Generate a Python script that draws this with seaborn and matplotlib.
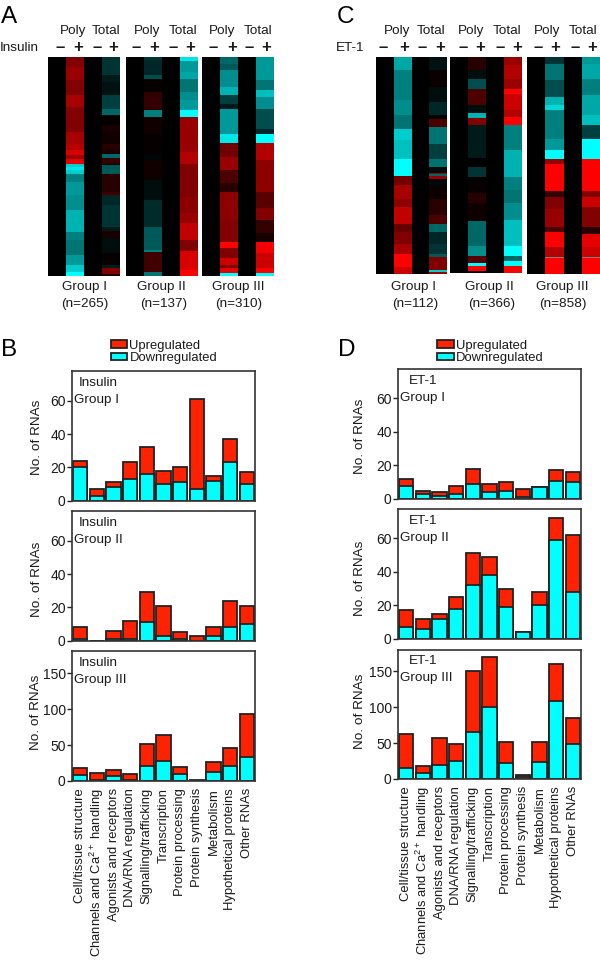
import numpy as np
import pandas as pd
import matplotlib
matplotlib.use("Agg")
import matplotlib.pyplot as plt
from matplotlib.colors import LinearSegmentedColormap
import seaborn as sns

categories = ["Cell/tissue structure", "Channels and Ca$^{2+}$ handling", "Agonists and receptors",
              "DNA/RNA regulation", "Signalling/trafficking", "Transcription", "Protein processing",
              "Protein synthesis", "Metabolism", "Hypothetical proteins", "Other RNAs"]

ins1_total = [24, 7, 11, 23, 32, 18, 20, 61, 15, 37, 17]
ins1_down = [20, 3, 8, 13, 16, 10, 11, 7, 12, 23, 10]
ins2_total = [8, 0, 6, 12, 29, 21, 5, 3, 8, 24, 21]
ins2_down = [1, 0, 1, 1, 11, 3, 1, 0, 3, 8, 10]
ins3_total = [18, 11, 16, 10, 51, 64, 19, 2, 26, 46, 93]
ins3_down = [8, 2, 7, 2, 21, 28, 10, 0, 12, 21, 33]
et1_total = [12, 5, 4, 8, 18, 9, 10, 6, 7, 17, 16]
et1_down = [8, 3, 2, 3, 9, 4, 5, 1, 7, 11, 10]
et2_total = [17, 12, 15, 25, 51, 49, 30, 4, 28, 72, 62]
et2_down = [7, 6, 12, 18, 32, 38, 19, 4, 20, 59, 28]
et3_total = [62, 18, 57, 49, 150, 170, 51, 6, 52, 160, 85]
et3_down = [15, 8, 19, 25, 66, 100, 22, 3, 23, 108, 49]

# Heatmap bands: (level, row where the band ends). Level -10 = cyan, 0 = black, 10 = red; None = no data.
A1_poly = [(5,200),(6,240),(5,285),(6.5,320),(5,395),(6.5,430),(7,450),(8.5,465),(6,475),(9,492),(-8,500),(-9,510),(-8,522),
           (-5,545),(-6,585),(-5.5,630),(-7,695),(-5,720),(-4.5,765),(-6,795),(-8,815),(-10,828)]
A1_total = [(-2,225),(-1,245),(-0.7,285),(-2.5,325),(-4,345),(0.2,375),(1,395),(0.7,430),(1.5,450),(0.8,460),(-4,473),(2,490),
            (0,495),(-3.5,522),(1.5,575),(2.5,585),(-1.5,615),(-2,680),(-1,692),(1,715),(-0.5,760),(0.3,795),(-1,805),(5,822),(1,828)]
A2_poly = [(-2,180),(-1.5,225),(-3,235),(0.3,275),(2,330),(-5,350),(0.7,400),(0.3,460),(-0.2,480),(0.7,540),(-0.5,600),
           (-1.7,680),(-3.5,750),(-5,755),(2.5,815),(-4.5,828)]
A2_total = [(-9,182),(-6,215),(-6.5,235),(-4.5,275),(-5.5,300),(-6,330),(-10,350),(6,455),(7,490),(5,590),(5.5,640),(6,670),
            (7.5,720),(5,752),(8.5,810),(10,828)]
A3_poly = [(-4,190),(-3.5,210),(-5.5,260),(-7,285),(-2.5,310),(-1,327),(-6,400),(-9,427),(4.5,470),(6,510),(3,550),(1.5,575),
           (5.5,660),(5,725),(10,745),(5,775),(8,795),(5,805),(9,818),(-10,828)]
A3_total = [(-6,240),(-4.5,270),(-7.5,290),(-5.5,327),(-3,385),(-1.5,400),(-10,427),(7,480),(5.5,575),(3.5,625),(5,660),(2,700),
            (1,725),(9.5,760),(8,803),(10,818),(-10,828)]
C1_poly = [(-6.5,210),(-5,300),(-5.5,345),(-4.5,385),(-8,420),(-7.5,475),(-10,528),(4.5,555),(6.5,595),(5.5,620),(7.5,670),
           (4,695),(5,730),(6.5,760),(10,800),(8,820)]
C1_total = [(-0.7,210),(0.4,260),(-0.5,305),(-1.5,345),(0,355),(3,380),(-4.5,430),(-2.5,475),(-4.5,500),(-0.5,518),(6,522),
            (-4,528),(6,535),(-0.3,560),(0.6,595),(1.5,645),(3,670),(-4,695),(-1.5,730),(-2,760),(-3.5,770),(5,808),(-8,814),(6,820)]
C2_poly = [(1.5,210),(-0.5,235),(-3,265),(3,315),(-0.5,340),(-7,355),(5,375),(-1,475),(0,500),(-2,530),(0.3,580),(1.5,610),
           (0.6,665),(-4,740),(-5.5,770),(3.5,790),(-10,800),(10,815),(0,820)]
C2_total = [(6,195),(7,235),(6,265),(10,280),(8,330),(7,350),(10,375),(-5,450),(-7,530),(-5,570),(-4.5,610),(-5.5,660),(-7.5,740),
            (-10,770),(-4,785),(-10,800),(10,820)]
C3_poly = [(-2,190),(-4.5,240),(-3,290),(-7,315),(-8.5,330),(-5,415),(-6,450),(-10,475),(6,490),(10,570),(2,590),(5,625),(6,680),
           (3,695),(10,740),(7,768),(None,773),(10,820)]
C3_total = [(-6,190),(-6.5,235),(-5,285),(-6.5,345),(-7.5,375),(-2.5,415),(-10,475),(10,570),(5,590),(8,620),(5,680),(1.5,700),
            (9,740),(8,768),(None,773),(10,820)]

sns.set_theme(style="ticks")
plt.rcParams["font.family"] = ["Liberation Sans", "DejaVu Sans"]
plt.rcParams["mathtext.default"] = "regular"

W, H = 600, 961
FS = 9.7
CAT_FS = 9.4
TICK_FS = 10
RED, CYAN, EDGE, INK = "#ff2200", "#00ffff", "#222222", "#1a1a1a"
fig = plt.figure(figsize=(W / 100, H / 100), dpi=100, facecolor="white")
cmap = LinearSegmentedColormap.from_list("cbr", ["#00ffff", "#000000", "#ff0000"])


def axes_px(x0, y0, x1, y1):
    return fig.add_axes([x0 / W, 1 - y1 / H, (x1 - x0) / W, (y1 - y0) / H])


def label(x, y, s, ha="center", size=FS, **kw):
    fig.text(x / W, 1 - y / H, s, ha=ha, va="center", fontsize=size, color=kw.pop("color", INK), **kw)


def expand(bands, start=170):
    out, prev = [], start
    for level, end in bands:
        out += [np.nan if level is None else level] * (end - prev)
        prev = end
    return np.array(out, dtype=float)


def heat(box, poly, total):
    p, t = expand(poly), expand(total)
    n = max(len(p), len(t))
    p = p[np.round(np.linspace(0, len(p) - 1, n)).astype(int)]
    t = t[np.round(np.linspace(0, len(t) - 1, n)).astype(int)]
    mat = pd.DataFrame({"a": np.zeros(n), "poly": p, "b": np.zeros(n), "total": t})
    ax = axes_px(*box)
    ax.set_facecolor("#808080")
    sns.heatmap(mat, cmap=cmap, vmin=-10, vmax=10, cbar=False, xticklabels=False, yticklabels=False, ax=ax)
    ax.set_xlabel(""); ax.set_ylabel("")


def bars(box, ymax, ticks, total, down, name, group, dx, ylab_dx, ylab_frac, show_labels=False):
    ax = axes_px(*box)
    df = pd.DataFrame({"cat": categories, "total": total, "down": down})
    sns.barplot(data=df, x="cat", y="total", color=RED, saturation=1, width=0.86, edgecolor=EDGE, linewidth=1.3, ax=ax)
    sns.barplot(data=df, x="cat", y="down", color=CYAN, saturation=1, width=0.86, edgecolor=EDGE, linewidth=1.3, ax=ax)
    ax.set_xlim(-0.5, 10.5)
    ax.set_ylim(0, ymax)
    ax.set_yticks(ticks)
    ax.set_ylabel("No. of RNAs", fontsize=FS, color=INK, va="center")
    ax.yaxis.set_label_coords(-ylab_dx / (box[2] - box[0]), ylab_frac)
    ax.set_xlabel("")
    ax.tick_params(axis="y", length=3.5, width=1, color=EDGE, labelsize=TICK_FS, pad=1, labelcolor=INK)
    if show_labels:
        ax.set_xticks(range(11))
        ax.set_xticklabels(categories, rotation=90, ha="center", va="top", fontsize=CAT_FS, color=INK)
        ax.tick_params(axis="x", length=0, pad=5)
    else:
        ax.set_xticks([])
    for s in ax.spines.values():
        s.set_visible(True); s.set_linewidth(1.2); s.set_color("#333333")
    x0, y0 = box[0], box[1]
    label(x0 + dx, y0 + 12, name, ha="center")
    label(x0 + 2, y0 + 29, group, ha="left")
    return ax


def head(group_xs, name_x, name, ha):
    label(name_x, 48, name, ha=ha)
    for xs in group_xs:
        label(xs[0], 31, "Poly"); label(xs[1], 31, "Total")
        for x, s in zip(xs[2:], ["\u2013", "+", "\u2013", "+"]):
            label(x, 47.5, s, size=12, fontweight="bold")


# Panels A and C
for box, p, t in [((48, 57, 120, 276), A1_poly, A1_total), ((125.5, 57, 197.5, 276), A2_poly, A2_total),
                  ((202, 57, 274, 276), A3_poly, A3_total), ((376, 57, 447, 273.5), C1_poly, C1_total),
                  ((450, 57, 522, 273), C2_poly, C2_total), ((527, 57, 600, 274), C3_poly, C3_total)]:
    heat(box, p, t)

head([(73, 106.5, 60, 78, 97, 113), (147, 183, 136, 154, 173, 190), (222, 258, 213, 232, 249, 266)], 39, "Insulin", "right")
head([(397, 431, 383, 404, 422, 440), (471, 507, 463, 480, 500, 517), (547, 583, 538, 555, 575, 592)], 364.5, "ET-1", "right")

for x, y, s in [(84, 287, "Group I"), (85, 304, "(n=265)"), (161, 287, "Group II"), (164, 304, "(n=137)"),
                (238, 287, "Group III"), (239, 304, "(n=310)"), (414, 287, "Group I"), (415, 304, "(n=112)"),
                (489, 287, "Group II"), (492, 304, "(n=366)"), (562, 287, "Group III"), (563, 304, "(n=858)")]:
    label(x, y, s)

# Panels B and D
bb1 = bars((72, 371, 255, 500.7), 78, [0, 20, 40, 60], ins1_total, ins1_down, "Insulin", "Group I", 26, 35, 0.49)
bars((72, 511, 255, 640.7), 78, [0, 20, 40, 60], ins2_total, ins2_down, "Insulin", "Group II", 26, 35, 0.47)
bars((72, 651, 255, 781), 181, [0, 50, 100, 150], ins3_total, ins3_down, "Insulin", "Group III", 26, 36, 0.53, True)
dd1 = bars((398, 369, 581, 499), 77.5, [0, 20, 40, 60], et1_total, et1_down, "ET-1", "Group I", 25, 38, 0.48)
bars((398, 509, 581, 639), 77.5, [0, 20, 40, 60], et2_total, et2_down, "ET-1", "Group II", 25, 38, 0.47)
bars((398, 649.5, 581, 779), 180, [0, 50, 100, 150], et3_total, et3_down, "ET-1", "Group III", 25, 38, 0.52, True)

for ax, x in [(bb1, 110.5), (dd1, 437)]:
    ax.legend([ax.containers[0], ax.containers[1]], ["Upregulated", "Downregulated"], loc="upper left",
              bbox_to_anchor=(x / W, 1 - 339.5 / H), bbox_transform=fig.transFigure, frameon=False, fontsize=9.4,
              borderpad=0, borderaxespad=0, handlelength=1.3, handleheight=0.55, handletextpad=0.15, labelspacing=0.05,
              labelcolor=INK)

for x, y, s in [(1, 17, "A"), (337, 17, "C"), (1, 350, "B"), (338, 350, "D")]:
    label(x, y, s, ha="left", size=17.5, color="black")

fig.savefig("out.png", dpi=100)
